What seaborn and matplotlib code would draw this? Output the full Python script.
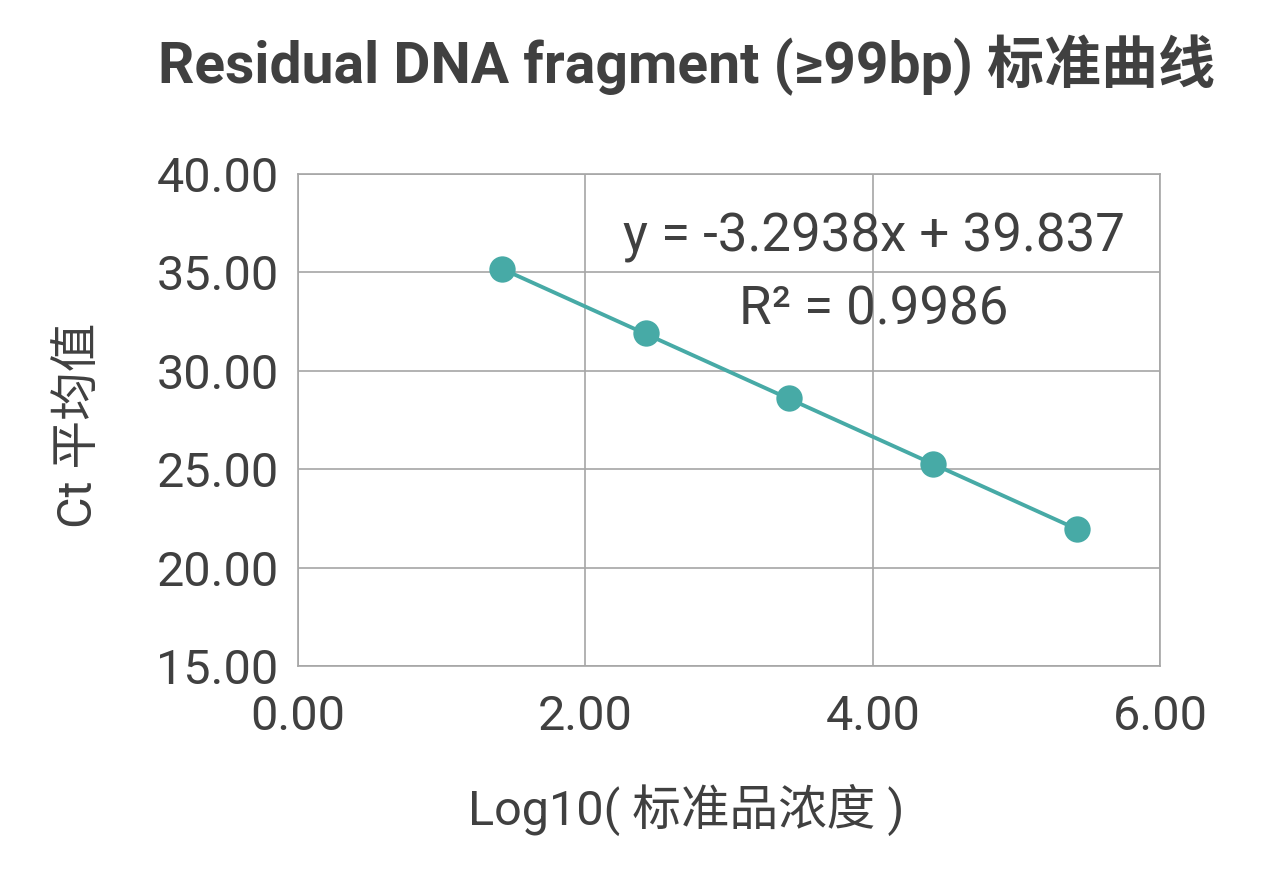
import matplotlib
matplotlib.use('Agg')
import matplotlib.pyplot as plt
import seaborn as sns
import pandas as pd

# Standard curve data
log_conc = [1.42, 2.42, 3.42, 4.42, 5.42]
ct_mean = [35.15, 31.90, 28.60, 25.25, 21.95]
x_ticks = [0, 2, 4, 6]
y_ticks = [15, 20, 25, 30, 35, 40]
equation = 'y = -3.2938x + 39.837'
r_squared = 'R² = 0.9986'

df = pd.DataFrame({'x': log_conc, 'y': ct_mean})

sns.set_style('white')
plt.rcParams['font.family'] = ['Roboto', 'Noto Sans CJK SC', 'DejaVu Sans']

text_color = '#404040'
grid_color = '#a6a6a6'
teal = '#47aaa6'

fig = plt.figure(figsize=(12.66, 8.77), dpi=100)
ax = fig.add_axes([0.2354, 0.2406, 0.6809, 0.561])

# trendline + points
sns.regplot(data=df, x='x', y='y', ci=None, ax=ax, color=teal,
            scatter_kws={'s': 360, 'alpha': 1, 'zorder': 4, 'linewidths': 0},
            line_kws={'lw': 2.8, 'zorder': 3})

ax.set_xlim(0, 6)
ax.set_ylim(15, 40)
ax.set_xticks(x_ticks)
ax.set_yticks(y_ticks)
ax.set_xticklabels([f'{v:.2f}' for v in x_ticks])
ax.set_yticklabels([f'{v:.2f}' for v in y_ticks])
ax.grid(True, color=grid_color, lw=1.2)
ax.set_axisbelow(True)
for s in ax.spines.values():
    s.set_color(grid_color)
    s.set_linewidth(1.2)
ax.tick_params(axis='both', length=0, labelsize=35, colors=text_color)
ax.tick_params(axis='x', pad=20)
ax.tick_params(axis='y', pad=14)

ax.set_xlabel('Log10( 标准品浓度 )', fontsize=35, color=text_color)
ax.set_ylabel('Ct 平均值', fontsize=35, color=text_color)
ax.xaxis.label.set_va('center')
ax.yaxis.label.set_va('center')
ax.xaxis.set_label_coords(0.45, -0.293)
ax.yaxis.set_label_coords(-0.253, 0.49)

ax.text(4.01, 36.75, equation, fontsize=38, color=text_color, ha='center', va='center')
ax.text(4.01, 33.1, r_squared, fontsize=38, color=text_color, ha='center', va='center')

fig.text(0.542, 0.926, 'Residual DNA fragment (≥99bp) 标准曲线', fontsize=41,
         fontweight='semibold', color=text_color, ha='center', va='center')

fig.savefig('out.png', dpi=100)
